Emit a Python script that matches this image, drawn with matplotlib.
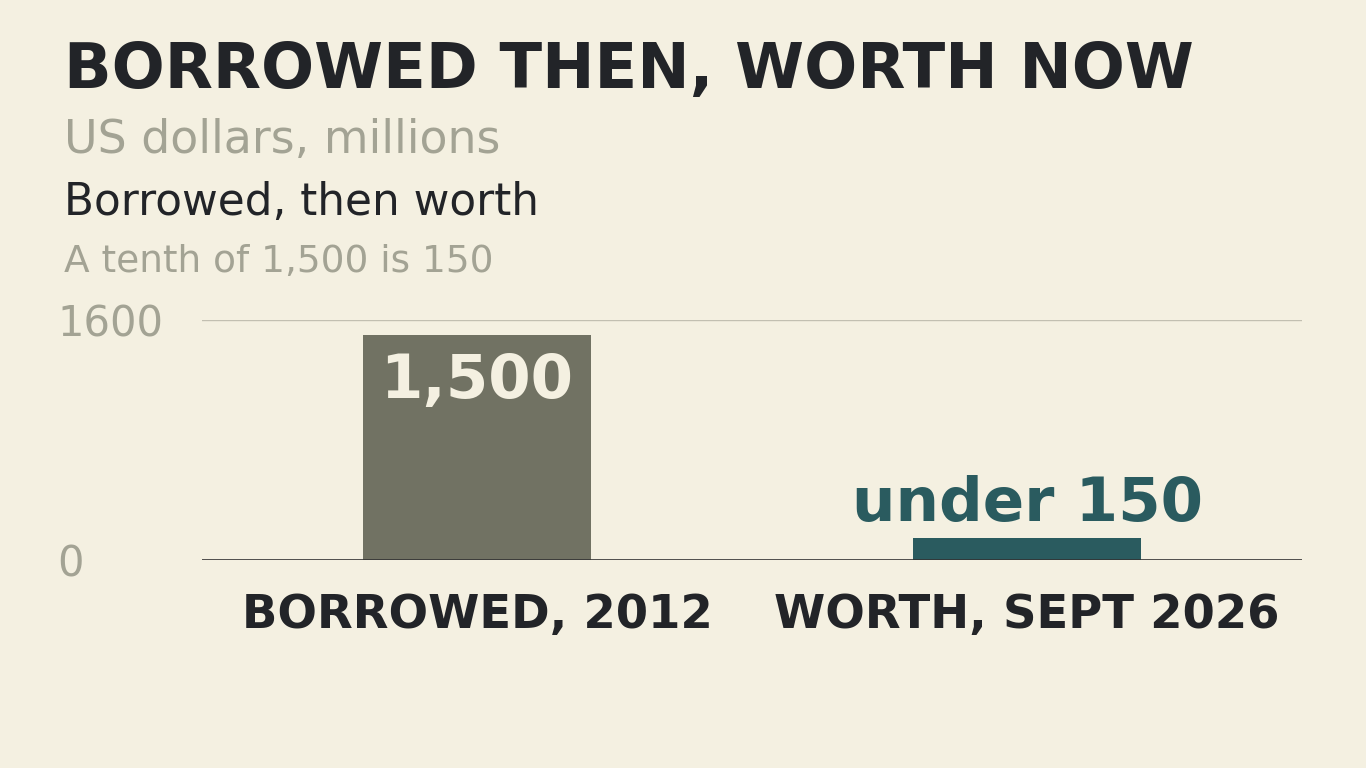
import matplotlib
matplotlib.use("Agg")
import matplotlib.pyplot as plt

categories = ["BORROWED, 2012", "WORTH, SEPT 2026"]
values = [1500, 145]
value_labels = ["1,500", "under 150"]
y_ticks = [0, 1600]
y_ticklabels = ["0", "1600"]

bg = "#f4f0e1"
dark = "#222428"
gray = "#a3a394"
bar_colors = ["#717263", "#2a5b5f"]

plt.rcParams["font.family"] = ["DejaVu Sans"]

fig = plt.figure(figsize=(13.66, 7.68), dpi=100, facecolor=bg)
ax = fig.add_axes([0.1479, 0.2708, 0.8053, 0.3125], facecolor=bg)

x = list(range(len(categories)))
ax.bar(x, values, width=0.416, color=bar_colors, zorder=2)
ax.set_xlim(-0.5, 1.5)
ax.set_ylim(0, 1600)

# grid line at top + baseline
ax.axhline(1600, color="#c2bfb1", linewidth=1, zorder=1)
ax.axhline(0, color="#333333", linewidth=1.2, zorder=3)

for s in ax.spines.values():
    s.set_visible(False)

ax.set_xticks(x, categories)
ax.tick_params(axis="x", length=0, pad=24, labelsize=33.5, labelcolor=dark)
for t in ax.get_xticklabels():
    t.set_fontweight("bold")

ax.set_yticks(y_ticks, y_ticklabels)
ax.tick_params(axis="y", length=0, pad=104, labelsize=30, labelcolor=gray)
for t in ax.get_yticklabels():
    t.set_horizontalalignment("left")

# value labels
ax.text(x[0], 1190, value_labels[0], ha="center", va="center",
        fontsize=44, fontweight="bold", color="#f4f0e1", zorder=4)
ax.text(x[1], 370, value_labels[1], ha="center", va="center",
        fontsize=44, fontweight="bold", color=bar_colors[1], zorder=4)

# header text
fig.text(64 / 1366, 1 - 88 / 768, "BORROWED THEN, WORTH NOW", fontsize=45,
         fontweight="bold", color=dark, ha="left", va="baseline")
fig.text(64 / 1366, 1 - 153 / 768, "US dollars, millions", fontsize=33,
         color=gray, ha="left", va="baseline")
fig.text(64 / 1366, 1 - 215 / 768, "Borrowed, then worth", fontsize=31.5,
         color=dark, ha="left", va="baseline")
fig.text(64 / 1366, 1 - 272 / 768, "A tenth of 1,500 is 150", fontsize=27,
         color=gray, ha="left", va="baseline")

fig.savefig("out.png", dpi=100, facecolor=bg)
